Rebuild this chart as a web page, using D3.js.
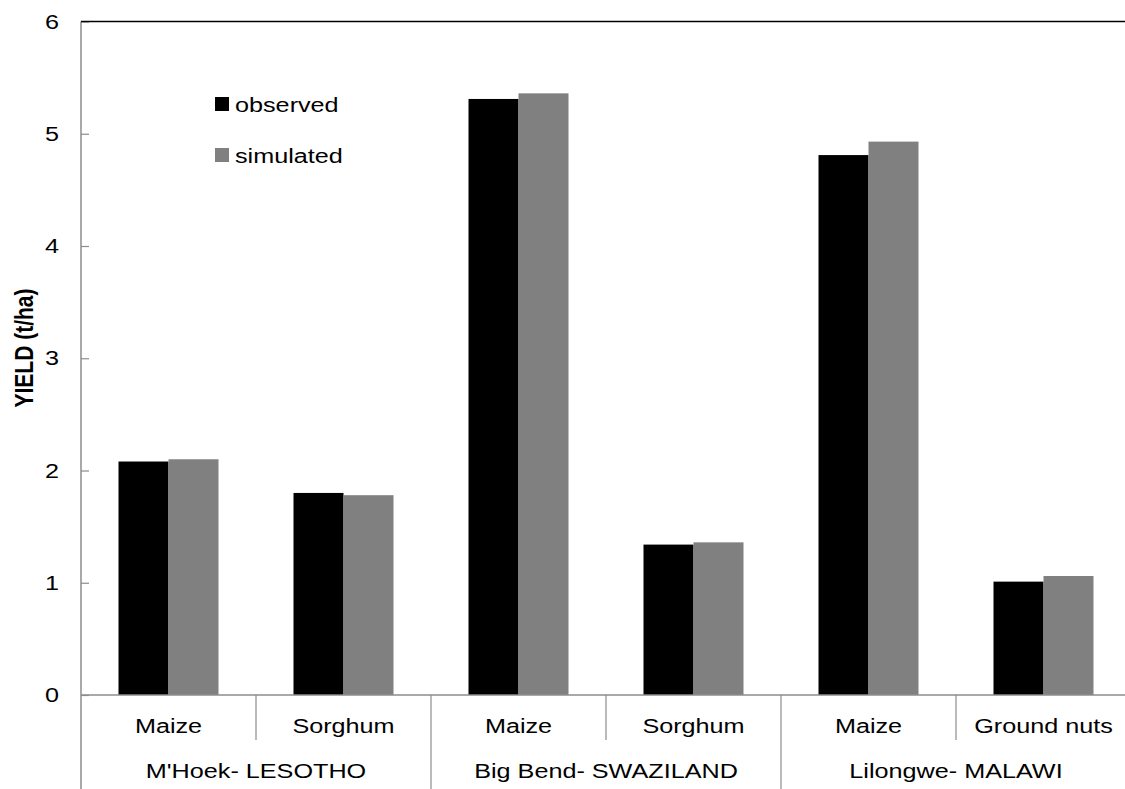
<!DOCTYPE html>
<html>
<head>
<meta charset="utf-8">
<script src="https://cdn.jsdelivr.net/npm/d3@7"></script>
<style>
html,body{margin:0;padding:0;background:#fff;}
svg{display:block;font-family:"Liberation Sans",Arial,sans-serif;}
</style>
</head>
<body>
<svg id="chart" width="1125" height="789"></svg>
<script>
const groups = ["M'Hoek- LESOTHO", "Big Bend- SWAZILAND", "Lilongwe- MALAWI"];
const crops = ["Maize", "Sorghum", "Maize", "Sorghum", "Maize", "Ground nuts"];
const cropGroup = [0, 0, 1, 1, 2, 2];
const observed = [2.08, 1.80, 5.31, 1.34, 4.81, 1.01];
const simulated = [2.10, 1.78, 5.36, 1.36, 4.93, 1.06];
const seriesNames = ["observed", "simulated"];
const seriesColors = ["#000000", "#808080"];
const yTicks = [0, 1, 2, 3, 4, 5, 6];

(function () {
const svg = d3.select("#chart");
const pLeft = 81, pRight = 1131, pTop = 21.5, pBottom = 695;
const SX = 1.2; // horizontal glyph stretch seen in the reference

const x = d3.scaleBand().domain(d3.range(crops.length)).range([pLeft, pRight])
  .paddingInner(75/175).paddingOuter(75/350);
const xs = d3.scaleBand().domain([0, 1]).range([0, x.bandwidth()]).padding(0);
const y = d3.scaleLinear().domain([0, 6]).range([pBottom, pTop]);
const step = x.step();

// bars
const series = [observed, simulated];
series.forEach((vals, si) => {
  svg.append("g").selectAll("rect").data(vals).join("rect")
    .attr("x", (d, i) => x(i) + xs(si))
    .attr("width", xs.bandwidth())
    .attr("y", d => y(d))
    .attr("height", d => y(0) - y(d))
    .attr("fill", seriesColors[si]);
});

// y axis
const yAxis = d3.axisLeft(y).tickValues(yTicks).tickSize(-8).tickPadding(22).tickFormat(d3.format("d"));
const yg = svg.append("g").attr("transform", `translate(${pLeft},0)`).call(yAxis);
yg.select(".domain").remove();
yg.selectAll(".tick line").attr("stroke", "#8c8c8c").attr("stroke-width", 1.2);
yg.selectAll(".tick text")
  .attr("font-size", 21).attr("fill", "#000")
  .attr("font-family", "'Liberation Sans', Arial, sans-serif")
  .attr("transform", function () {
    const tx = +d3.select(this).attr("x");
    return `translate(${tx},0) scale(${SX},1) translate(${-tx},0)`;
  });
svg.append("line").attr("x1", pLeft).attr("x2", pLeft).attr("y1", pTop).attr("y2", 789)
  .attr("stroke", "#8c8c8c").attr("stroke-width", 1.5);
svg.append("line").attr("x1", pLeft).attr("x2", 1125).attr("y1", pTop).attr("y2", pTop)
  .attr("stroke", "#000").attr("stroke-width", 1.3);
svg.append("line").attr("x1", pLeft).attr("x2", 1125).attr("y1", y(0)).attr("y2", y(0))
  .attr("stroke", "#8c8c8c").attr("stroke-width", 1.5);

// category separators
d3.range(1, crops.length + 1).forEach(i => {
  const sx = pLeft + i * step;
  const isGroupEnd = i === crops.length || cropGroup[i] !== cropGroup[i - 1];
  svg.append("line").attr("x1", sx).attr("x2", sx).attr("y1", y(0)).attr("y2", isGroupEnd ? 789 : 740)
    .attr("stroke", "#8c8c8c").attr("stroke-width", 1.2);
});

// crop labels
svg.append("g").selectAll("text").data(crops).join("text")
  .attr("transform", (d, i) => `translate(${x(i) + x.bandwidth() / 2},733) scale(${SX},1)`)
  .attr("text-anchor", "middle")
  .attr("font-size", 21)
  .text(d => d);

// group labels
svg.append("g").selectAll("text").data(groups).join("text")
  .attr("transform", (d, gi) => {
    const idx = cropGroup.map((g, i) => g === gi ? i : -1).filter(i => i >= 0);
    const cx = pLeft + (idx[0] + idx[idx.length - 1] + 1) / 2 * step;
    return `translate(${cx},778) scale(${SX},1)`;
  })
  .attr("text-anchor", "middle")
  .attr("font-size", 21)
  .text(d => d);

// y title
svg.append("text")
  .attr("transform", `translate(33,348) scale(${SX},1) rotate(-90)`)
  .attr("text-anchor", "middle")
  .attr("font-size", 21)
  .attr("font-weight", "bold")
  .text("YIELD (t/ha)");

// legend
const lg = svg.append("g");
seriesNames.forEach((n, i) => {
  const ly = 104 + i * 51;
  lg.append("rect").attr("x", 215).attr("y", ly - 7).attr("width", 14).attr("height", 14)
    .attr("fill", seriesColors[i]);
  lg.append("text").attr("transform", `translate(235,${ly + 8}) scale(${SX},1)`)
    .attr("font-size", 21).text(n);
});
})();
</script>
</body>
</html>
